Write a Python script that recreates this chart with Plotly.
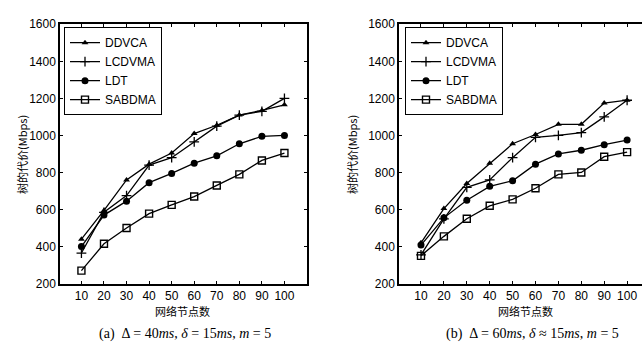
import plotly.graph_objects as go

nodes = [10, 20, 30, 40, 50, 60, 70, 80, 90, 100]
series_names = ["DDVCA", "LCDVMA", "LDT", "SABDMA"]

# Panel (a): Δ=40ms, δ=15ms, m=5
a_ddvca = [440, 595, 760, 845, 905, 1010, 1055, 1110, 1135, 1165]
a_lcdvma = [365, 585, 675, 840, 880, 965, 1050, 1110, 1130, 1200]
a_ldt = [400, 570, 645, 745, 795, 850, 890, 955, 995, 1000]
a_sabdma = [270, 415, 500, 578, 625, 670, 730, 790, 865, 905]

# Panel (b): Δ=60ms, δ=15ms, m=5
b_ddvca = [420, 605, 740, 850, 955, 1005, 1060, 1060, 1175, 1190]
b_lcdvma = [355, 550, 720, 760, 880, 990, 1000, 1015, 1100, 1190]
b_ldt = [408, 555, 650, 725, 755, 845, 900, 920, 950, 975]
b_sabdma = [350, 455, 550, 620, 655, 715, 790, 800, 885, 910]

y_ticks = [200, 400, 600, 800, 1000, 1200, 1400, 1600]
x_ticks = nodes
y_title = "树的代价(Mbps)"
x_title = "网络节点数"
cap_a = "(a)  Δ = 40<i>ms</i>, <i>δ</i> = 15<i>ms</i>, <i>m</i> = 5"
cap_b = "(b)  Δ = 60<i>ms</i>, <i>δ</i> ≈ 15<i>ms</i>, <i>m</i> = 5"

styles = {
    "DDVCA": dict(symbol="triangle-up", size=6, color="black", line=dict(width=0)),
    "LCDVMA": dict(symbol="cross-thin", size=7, color="black", line=dict(width=1.3, color="black")),
    "LDT": dict(symbol="circle", size=7, color="black", line=dict(width=0)),
    "SABDMA": dict(symbol="square-open", size=7, color="black", line=dict(width=1.4, color="black")),
}

fig = go.Figure()
panels = [
    ("x", "y", "legend", [a_ddvca, a_lcdvma, a_ldt, a_sabdma]),
    ("x2", "y2", "legend2", [b_ddvca, b_lcdvma, b_ldt, b_sabdma]),
]
for xa, ya, lg, data in panels:
    for name, vals in zip(series_names, data):
        fig.add_trace(go.Scatter(
            x=nodes, y=vals, name=name, mode="lines+markers",
            line=dict(color="black", width=1.3),
            marker=styles[name],
            xaxis=xa, yaxis=ya, legend=lg,
        ))

W, H = 642, 354
axfont = dict(family="Liberation Sans", size=12, color="black")
common_x = dict(range=[0.5, 110], tickvals=x_ticks, ticks="inside", ticklen=3,
                showline=True, linecolor="black", linewidth=1.5, showgrid=False,
                zeroline=False, tickfont=axfont, tickcolor="black")
common_y = dict(range=[200, 1600], tickvals=y_ticks, ticks="inside", ticklen=3,
                showline=True, linecolor="black", linewidth=1.5, showgrid=False,
                zeroline=False, tickfont=axfont, tickcolor="black")

legfont = dict(family="Liberation Sans", size=12, color="black")
y_dom = [1 - 288 / H, 1 - 18 / H]
fig.update_layout(
    width=W, height=H, margin=dict(l=0, r=0, t=0, b=0),
    paper_bgcolor="white", plot_bgcolor="white", showlegend=True,
    xaxis=dict(domain=[60 / W, 307 / W], anchor="y", mirror="ticks", **common_x),
    yaxis=dict(domain=y_dom, anchor="x", mirror="ticks", **common_y),
    xaxis2=dict(domain=[399 / W, 1.0], anchor="y2", mirror="ticks",
                **{**common_x, "range": [0.4, 106.5]}),
    yaxis2=dict(domain=y_dom, anchor="x2", mirror=False, **common_y),
    legend=dict(x=64 / W, y=1 - 21 / H, xanchor="left", yanchor="top",
                bgcolor="white", bordercolor="black", borderwidth=1,
                font=legfont, tracegroupgap=0, itemwidth=30),
    legend2=dict(x=405 / W, y=1 - 21 / H, xanchor="left", yanchor="top",
                 bgcolor="white", bordercolor="black", borderwidth=1,
                 font=legfont, tracegroupgap=0, itemwidth=30),
)

ann = []
for cx, txt in [(22, y_title), (352, y_title)]:
    ann.append(dict(x=cx / W, y=1 - 153 / H, xref="paper", yref="paper", text=txt,
                    textangle=-90, showarrow=False, xanchor="center", yanchor="middle",
                    font=dict(family="Noto Sans CJK SC", size=11, color="black")))
for cx, txt in [(183, x_title), (525, x_title)]:
    ann.append(dict(x=cx / W, y=1 - 317 / H, xref="paper", yref="paper", text=txt,
                    showarrow=False, xanchor="center", yanchor="middle",
                    font=dict(family="Noto Sans CJK SC", size=11, color="black")))
for cx, txt in [(185, cap_a), (532, cap_b)]:
    ann.append(dict(x=cx / W, y=1 - 340 / H, xref="paper", yref="paper", text=txt,
                    showarrow=False, xanchor="center", yanchor="middle",
                    font=dict(family="Liberation Serif", size=14, color="black")))
fig.update_layout(annotations=ann)

fig.write_html("out.html")
